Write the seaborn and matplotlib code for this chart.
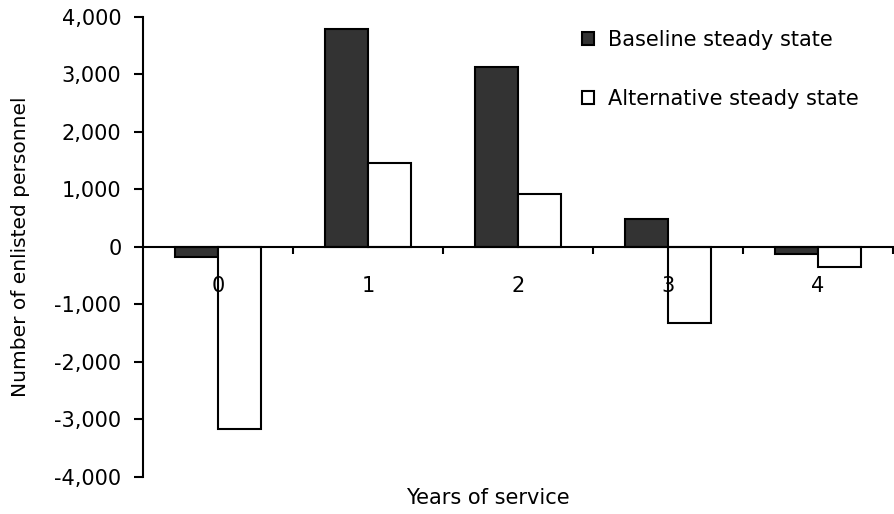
import pandas as pd
import matplotlib
matplotlib.use('Agg')
import matplotlib.pyplot as plt
import seaborn as sns

years = ['0', '1', '2', '3', '4']
baseline = [-180, 3790, 3130, 480, -130]
alternative = [-3170, 1460, 910, -1320, -350]
series_names = ['Baseline steady state', 'Alternative steady state']
y_ticks = [-4000, -3000, -2000, -1000, 0, 1000, 2000, 3000, 4000]
y_tick_labels = ['-4,000', '-3,000', '-2,000', '-1,000', '0', '1,000', '2,000', '3,000', '4,000']

df = pd.DataFrame({
    'year': years * 2,
    'value': baseline + alternative,
    'series': [series_names[0]] * len(years) + [series_names[1]] * len(years),
})

sns.set_style('white')
plt.rcParams['font.family'] = ['DejaVu Sans']
plt.rcParams['text.color'] = 'black'
plt.rcParams['axes.labelcolor'] = 'black'
plt.rcParams['xtick.color'] = 'black'
plt.rcParams['ytick.color'] = 'black'
fs = 15

fig = plt.figure(figsize=(8.95, 5.14), dpi=100)
ax = fig.add_axes([143 / 895, 1 - 477 / 514, 750 / 895, (477 - 16.7) / 514])

sns.barplot(data=df, x='year', y='value', hue='series', order=years,
            hue_order=series_names, palette=['#333333', 'white'],
            edgecolor='black', linewidth=1.5, width=0.57, saturation=1,
            errorbar=None, ax=ax)

handles, labels = ax.get_legend_handles_labels()
ax.legend(handles, labels, loc='upper left', bbox_to_anchor=(582 / 895, 1 - 30 / 514),
          bbox_transform=fig.transFigure, frameon=False, fontsize=fs,
          handlelength=0.6, handleheight=0.6, handletextpad=0.65,
          labelspacing=1.85, borderaxespad=0, borderpad=0)

ax.set_axisbelow(False)
ax.set_xlim(-0.5, 4.5)
ax.set_ylim(-4000, 4000)
ax.set_yticks(y_ticks)
ax.set_yticklabels(y_tick_labels, fontsize=fs)

ax.set_xticks([0.5, 1.5, 2.5, 3.5, 4.5])
ax.set_xticklabels([])
ax.set_xticks(range(len(years)), minor=True)
ax.set_xticklabels(years, minor=True)
ax.tick_params(axis='x', which='major', bottom=True, direction='out', length=5, width=1.5, color='black')
ax.tick_params(axis='x', which='minor', bottom=True, length=0, pad=21, labelsize=fs)
ax.tick_params(axis='y', left=True, direction='out', length=6.5, width=1.5, color='black', pad=9)

for side in ['top', 'right']:
    ax.spines[side].set_visible(False)
ax.spines['bottom'].set_position(('data', 0))
for side in ['left', 'bottom']:
    ax.spines[side].set_color('black')
    ax.spines[side].set_linewidth(1.5)

ax.set_xlabel('Years of service', fontsize=fs)
ax.set_ylabel('Number of enlisted personnel', fontsize=14.5)
ax.xaxis.set_label_coords((488 - 143) / 750, -(488 - 477) / 460)
ax.yaxis.set_label_coords(-(143 - 30) / 750, 0.5)

fig.savefig('out.png', dpi=100)
